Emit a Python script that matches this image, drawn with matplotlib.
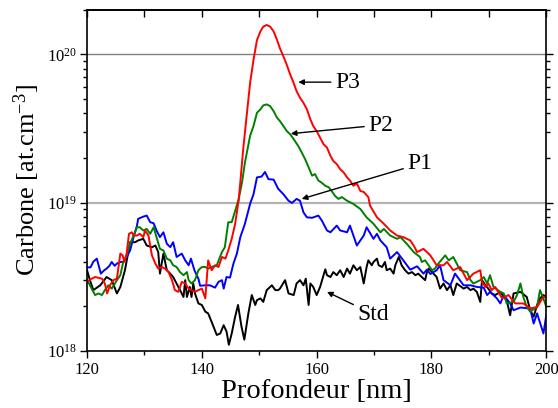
import matplotlib
matplotlib.use('Agg')
import matplotlib.pyplot as plt
import numpy as np
from matplotlib.ticker import MultipleLocator, LogLocator, NullFormatter

plt.rcParams['font.family'] = 'Liberation Serif'
plt.rcParams['mathtext.fontset'] = 'custom'
plt.rcParams['mathtext.rm'] = 'Liberation Serif'
plt.rcParams['mathtext.it'] = 'Liberation Serif:italic'

# depth [nm] and carbon concentration [1e18 at/cm3] for each sample
std_x = [120.0, 120.5, 121.1, 122.3, 123.4, 124.3, 125.2, 125.8, 126.6, 127.5, 128.4, 128.9,
         129.8, 130.4, 131.3, 131.9, 132.4, 132.7, 133.3, 133.9, 134.5, 135.0, 135.6, 136.2,
         136.8, 137.1, 137.4, 137.9, 138.2, 138.5, 138.8, 139.4, 140.0, 140.6, 141.1, 141.7,
         142.6, 143.2, 143.8, 144.3, 144.7, 145.2, 145.8, 146.3, 146.9, 147.4, 148.1, 148.7,
         149.3, 149.6, 150.2, 150.7, 151.3, 152.2, 152.8, 153.3, 153.6, 154.5, 155.1, 156.0,
         156.5, 157.1, 157.7, 158.1, 158.6, 158.9, 159.4, 160.0, 160.6, 161.5, 161.8, 162.4,
         162.9, 163.5, 164.1, 164.7, 165.3, 165.8, 166.4, 167.0, 167.6, 168.2, 168.7, 169.0,
         169.6, 169.9, 170.5, 170.8, 171.4, 171.9, 172.2, 172.8, 173.4, 173.7, 174.3, 174.8,
         175.4, 176.0, 176.6, 177.2, 177.7, 178.3, 178.9, 179.2, 179.5, 180.1, 180.9, 181.5,
         182.1, 182.7, 183.3, 183.8, 184.4, 185.6, 186.2, 186.8, 187.3, 187.9, 188.5, 188.8,
         189.4, 189.9, 190.5, 191.1, 192.0, 192.6, 193.1, 193.7, 194.3, 195.5, 196.6, 197.2,
         197.8, 198.4, 198.9, 199.5, 200.0]
std_y = [3.5, 3.0, 2.57, 2.77, 3.15, 3.0, 2.44, 2.7, 3.5, 5.41, 5.41, 5.56,
         5.7, 5.14, 5.0, 5.14, 4.64, 3.32, 4.53, 3.5, 3.32, 3.15, 2.85, 2.57,
         2.31, 3.0, 2.31, 2.7, 2.31, 2.85, 2.44, 2.09, 2.04, 1.84, 1.79, 1.57,
         1.28, 1.31, 1.49, 1.35, 1.1, 1.31, 1.7, 2.04, 1.46, 1.19, 1.79, 2.38,
         2.04, 2.2, 2.26, 2.14, 2.57, 2.77, 2.57, 2.57, 2.63, 3.0, 2.44, 2.38,
         2.85, 3.0, 2.77, 3.07, 2.04, 2.85, 2.7, 2.38, 2.7, 3.55, 3.24, 3.15,
         3.4, 3.24, 3.5, 3.15, 3.59, 3.32, 3.78, 3.5, 3.68, 2.85, 3.68, 4.08,
         3.78, 3.98, 4.19, 3.78, 3.68, 3.98, 3.5, 3.59, 3.32, 3.78, 4.3, 3.78,
         3.5, 3.32, 3.4, 3.24, 3.32, 3.15, 3.0, 3.4, 3.59, 3.4, 3.15, 2.63,
         2.85, 2.57, 2.77, 2.38, 2.85, 2.63, 2.7, 2.57, 2.63, 2.5, 2.14, 3.0,
         2.77, 2.63, 2.44, 2.38, 2.5, 2.31, 2.2, 1.74, 2.44, 2.5, 2.31, 1.88,
         1.7, 2.04, 2.26, 2.38, 2.31]

p1_x = [120.0, 120.6, 121.1, 121.7, 122.0, 122.4, 123.0, 123.4, 123.9, 124.3, 124.8, 125.2,
        125.8, 126.3, 126.9, 127.5, 128.1, 128.7, 128.9, 129.8, 130.4, 131.0, 131.6, 132.1,
        132.7, 133.3, 133.9, 134.5, 135.0, 135.6, 136.5, 137.1, 137.7, 138.1, 138.7, 139.4,
        139.7, 140.6, 141.4, 142.3, 142.9, 143.5, 143.8, 144.3, 144.9, 145.5, 146.1, 146.7,
        147.5, 148.4, 149.0, 149.6, 150.4, 151.0, 151.6, 152.5, 153.3, 154.2, 155.1, 155.7,
        156.5, 157.1, 157.7, 158.3, 159.2, 160.3, 160.9, 161.8, 162.4, 163.5, 164.1, 165.3,
        165.8, 167.0, 168.2, 168.7, 169.9, 170.5, 171.1, 172.2, 172.8, 174.0, 175.1, 176.3,
        177.5, 178.6, 179.2, 179.8, 180.9, 181.5, 182.1, 183.3, 184.1, 185.6, 186.8, 187.9,
        189.1, 189.7, 190.2, 191.4, 192.0, 192.6, 193.7, 194.3, 195.5, 197.2, 197.8, 198.4,
        199.5, 200.0]
p1_y = [3.66, 3.66, 4.0, 4.19, 3.8, 3.32, 3.5, 3.59, 3.75, 3.98, 3.75, 3.88,
        3.98, 3.98, 4.3, 4.76, 5.85, 7.0, 7.77, 8.05, 8.18, 7.38, 7.26, 6.49,
        5.85, 6.31, 5.28, 5.01, 5.41, 4.3, 4.53, 4.08, 3.78, 4.19, 3.5, 3.07,
        2.75, 2.77, 2.77, 2.67, 2.92, 3.0, 2.63, 3.15, 3.12, 3.88, 4.53, 5.85,
        7.2, 9.8, 11.4, 14.8, 15.0, 16.1, 14.4, 14.3, 12.4, 11.4, 10.3, 9.95,
        10.6, 10.3, 8.6, 7.96, 7.9, 8.18, 7.57, 6.49, 6.31, 7.0, 6.49, 6.31,
        7.0, 5.14, 6.0, 6.82, 5.7, 6.16, 5.56, 5.0, 4.19, 4.64, 4.08, 3.53,
        3.72, 3.32, 3.53, 3.3, 3.5, 3.78, 3.0, 2.77, 3.32, 2.77, 2.77, 2.7,
        2.67, 2.38, 2.5, 2.26, 2.09, 2.38, 2.09, 1.88, 1.96, 1.93, 1.53, 1.79,
        1.31, 1.74]

p2_x = [120.0, 120.2, 120.8, 121.4, 122.0, 122.6, 123.1, 123.7, 124.3, 125.2, 125.8, 126.3,
        126.9, 127.5, 128.1, 128.7, 129.2, 129.8, 130.4, 131.0, 131.6, 132.1, 132.7, 133.3,
        133.9, 134.5, 135.0, 135.6, 136.2, 136.8, 137.4, 137.7, 138.2, 138.8, 139.4, 140.0,
        140.6, 141.1, 141.7, 142.6, 143.5, 144.0, 144.6, 145.2, 145.8, 146.4, 147.0, 147.5,
        148.4, 149.0, 149.6, 150.2, 150.7, 151.3, 151.9, 152.5, 153.1, 153.6, 154.2, 154.8,
        155.4, 156.0, 156.8, 157.4, 158.0, 158.6, 159.2, 159.7, 160.3, 160.9, 161.5, 162.1,
        162.6, 163.2, 163.8, 164.4, 165.3, 166.4, 167.6, 168.7, 169.9, 171.1, 171.7, 172.8,
        174.0, 174.6, 175.7, 176.9, 178.0, 178.3, 178.9, 180.1, 180.6, 181.2, 182.4, 183.0,
        183.8, 185.0, 186.2, 186.8, 187.3, 188.5, 189.1, 189.7, 190.2, 190.8, 192.0, 192.6,
        193.1, 194.3, 194.9, 195.5, 196.0, 196.6, 197.2, 198.4, 198.9, 199.5, 200.0]
p2_y = [3.0, 2.92, 2.63, 2.38, 2.44, 2.38, 2.57, 2.77, 2.63, 3.0, 3.24, 3.98,
        4.41, 5.28, 6.0, 6.82, 6.82, 6.49, 6.65, 6.16, 6.82, 5.85, 4.88, 4.76,
        4.19, 4.08, 3.78, 3.68, 3.4, 3.24, 3.4, 3.0, 2.85, 3.0, 3.5, 3.68,
        3.68, 3.59, 3.68, 3.78, 4.64, 5.0, 7.38, 7.38, 8.8, 10.5, 13.7, 18.6,
        28.2, 32.9, 40.4, 42.6, 45.3, 46.0, 44.8, 41.4, 37.4, 35.5, 32.9, 30.4,
        28.9, 26.8, 24.1, 21.8, 19.6, 17.3, 15.2, 15.6, 14.1, 13.6, 13.0, 12.7,
        12.0, 11.1, 10.6, 10.9, 10.3, 9.8, 9.07, 7.96, 7.2, 6.31, 6.65, 6.0,
        5.7, 5.85, 5.28, 4.64, 4.3, 3.98, 4.08, 3.5, 3.59, 3.88, 4.41, 4.08,
        4.3, 3.5, 3.4, 3.0, 2.85, 3.0, 3.15, 2.85, 3.24, 2.7, 2.5, 2.44,
        2.09, 2.14, 2.38, 2.85, 2.31, 1.98, 1.84, 1.98, 2.57, 2.26, 1.98]

p3_x = [120.0, 120.8, 121.4, 122.6, 123.1, 123.5, 124.0, 124.6, 125.2, 125.8, 126.2, 126.5,
        126.9, 127.3, 127.8, 128.1, 128.7, 129.2, 129.8, 130.1, 130.7, 131.3, 131.9, 132.4,
        133.0, 133.6, 134.2, 134.8, 135.3, 135.9, 136.5, 137.1, 137.7, 138.2, 138.8, 139.4,
        140.0, 140.6, 141.1, 141.7, 142.3, 142.9, 143.5, 144.1, 144.6, 145.2, 145.8, 146.4,
        146.7, 147.2, 147.8, 148.4, 149.0, 149.6, 150.2, 150.7, 151.3, 151.9, 152.5, 153.1,
        153.6, 154.2, 154.8, 155.4, 156.0, 156.5, 157.1, 157.7, 158.3, 158.9, 159.4, 160.0,
        160.6, 161.2, 161.8, 162.4, 162.9, 163.5, 164.1, 164.7, 165.3, 165.8, 166.4, 167.0,
        167.6, 168.2, 169.0, 169.3, 170.5, 171.7, 172.8, 174.0, 175.1, 176.3, 176.9, 177.5,
        178.6, 179.8, 180.9, 182.1, 182.7, 183.8, 185.0, 186.2, 187.3, 188.5, 188.8, 189.4,
        189.9, 190.5, 191.1, 192.3, 193.4, 194.6, 196.0, 197.2, 198.4, 199.5, 200.0]
p3_y = [2.92, 3.07, 3.15, 3.07, 2.85, 2.44, 2.77, 3.0, 3.07, 4.53, 4.41, 3.98,
        4.53, 6.16, 6.31, 6.0, 6.0, 6.16, 5.85, 6.49, 6.0, 4.41, 3.88, 3.59,
        3.68, 3.59, 3.4, 3.0, 2.57, 2.5, 2.92, 2.85, 2.63, 2.57, 2.5, 2.57,
        2.63, 2.26, 4.08, 3.5, 3.78, 3.68, 4.3, 4.19, 4.76, 5.7, 7.2, 10.3,
        13.7, 22.9, 38.4, 64.0, 92.0, 125.0, 143.0, 154.0, 158.0, 154.0, 143.0, 125.0,
        110.0, 97.0, 85.0, 73.0, 64.0, 56.5, 51.0, 47.1, 42.6, 36.5, 32.9, 30.4,
        27.4, 24.8, 23.5, 20.7, 19.1, 18.2, 16.8, 16.0, 14.8, 14.1, 13.0, 13.5,
        12.0, 11.8, 10.9, 9.55, 7.96, 7.2, 6.49, 6.0, 5.85, 5.56, 5.14, 4.64,
        4.88, 4.41, 3.78, 3.78, 3.98, 3.5, 3.68, 3.0, 3.32, 3.5, 2.92, 2.7,
        2.85, 2.57, 2.7, 2.26, 2.38, 2.09, 2.09, 1.93, 1.98, 2.31, 2.31]

fig = plt.figure(figsize=(5.58, 4.08), dpi=100)
ax = fig.add_axes([0.156, 0.14, 0.823, 0.836])

# horizontal reference lines
ax.axhline(1e20, color='#808080', lw=1.0, zorder=0)
ax.axhline(1e19, color='#b4b4b4', lw=1.6, zorder=0)

ax.plot(std_x, np.array(std_y) * 1e18, color='black', lw=1.4)
ax.plot(p1_x, np.array(p1_y) * 1e18, color='#0000ff', lw=1.4)
ax.plot(p2_x, np.array(p2_y) * 1e18, color='#008000', lw=1.4)
ax.plot(p3_x, np.array(p3_y) * 1e18, color='#ff0000', lw=1.4)

ax.set_yscale('log')
ax.set_xlim(120, 200)
ax.set_ylim(1e18, 2e20)

ax.xaxis.set_major_locator(MultipleLocator(20))
ax.xaxis.set_minor_locator(MultipleLocator(10))
ax.yaxis.set_major_locator(LogLocator(base=10))
ax.yaxis.set_minor_locator(LogLocator(base=10, subs=np.arange(2, 10)))
ax.yaxis.set_minor_formatter(NullFormatter())

ax.tick_params(axis='x', which='both', direction='out', top=False, labelsize=12, pad=3)
ax.tick_params(axis='y', which='both', direction='out', right=True, labelsize=12, pad=2)
ax.tick_params(which='major', length=5, width=1)
ax.tick_params(which='minor', length=3, width=1)

secx = ax.secondary_xaxis('top')
secx.xaxis.set_major_locator(MultipleLocator(10))
secx.tick_params(direction='in', length=5, width=1, labeltop=False)

for sp in ax.spines.values():
    sp.set_linewidth(1.2)
secx.spines['top'].set_linewidth(1.2)

ax.set_xlabel('Profondeur [nm]', fontsize=20.5, labelpad=1)
ax.set_ylabel('Carbone [at.cm$^{-3}$]', fontsize=19, labelpad=4)

# annotations
arrow = dict(arrowstyle='-|>', color='black', lw=1, mutation_scale=8, shrinkA=1, shrinkB=0)
ax.annotate('P3', xy=(156.8, 6.5e19), xytext=(163.2, 6.5e19), fontsize=17,
            ha='left', va='center', arrowprops=arrow)
ax.annotate('P2', xy=(155.5, 2.92e19), xytext=(169.0, 3.34e19), fontsize=17,
            ha='left', va='center', arrowprops=arrow)
ax.annotate('P1', xy=(157.4, 1.06e19), xytext=(175.8, 1.83e19), fontsize=17,
            ha='left', va='center', arrowprops=arrow)
ax.annotate('Std', xy=(161.8, 2.5e18), xytext=(167.1, 1.77e18), fontsize=17,
            ha='left', va='center', arrowprops=arrow)

fig.savefig('out.png', dpi=100)
